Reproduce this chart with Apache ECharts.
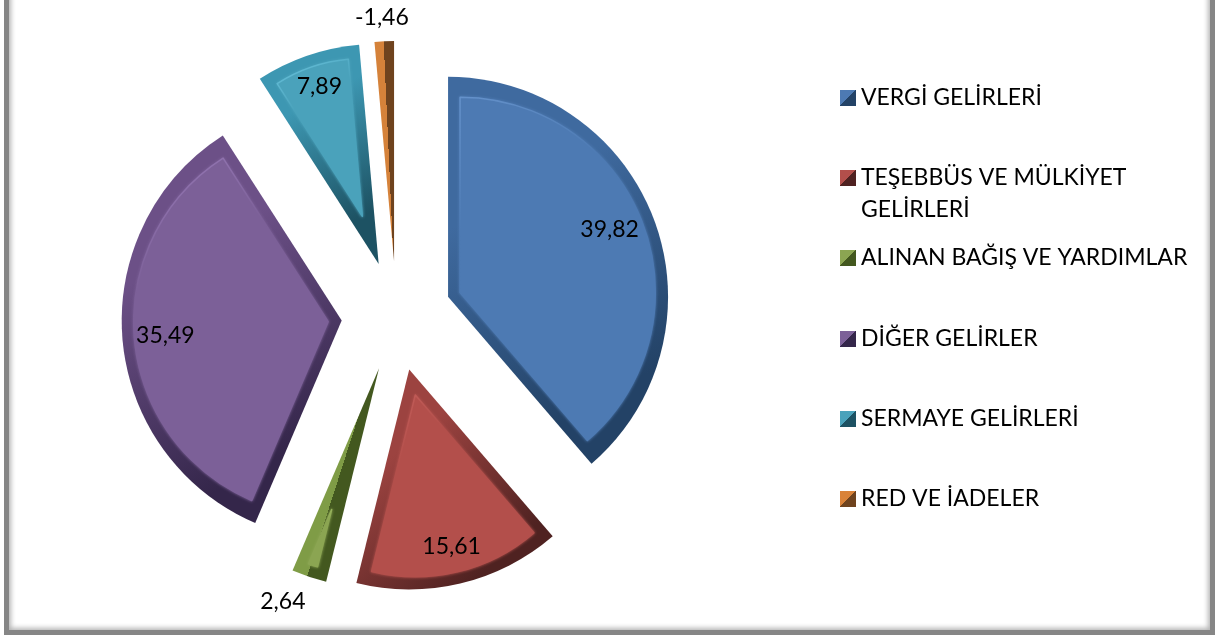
<!DOCTYPE html>
<html>
<head>
<meta charset="utf-8">
<script src="https://cdn.jsdelivr.net/npm/echarts@6/dist/echarts.min.js"></script>
<style>
html, body { margin: 0; background: #fff; overflow: hidden; }
#frame { position: absolute; left: 4px; top: -40px; width: 1201px; height: 665px; border: 5px solid #868686; box-shadow: inset 0 0 5px 2px #b4b4b4; }
#main { position: absolute; left: 0; top: 0; width: 1217px; height: 637px; }
</style>
</head>
<body>
<div id="frame"></div>
<div id="main"></div>
<script>
const categories = ['VERGİ GELİRLERİ', 'TEŞEBBÜS VE MÜLKİYET GELİRLERİ', 'ALINAN BAĞIŞ VE YARDIMLAR', 'DİĞER GELİRLER', 'SERMAYE GELİRLERİ', 'RED VE İADELER'];
const values = [39.82, 15.61, 2.64, 35.49, 7.89, -1.46];
const fillColors = ['#4d7ab3', '#b34f4b', '#8ba552', '#7c6098', '#4aa2bb', '#d98238'];
const rimColors = ['#6592cb', '#c8625e', '#a2c065', '#9a7cba', '#6cc6e0', '#e8953e'];
const lightEdges = ['#3f6a9f', '#9c4340', '#7f9c46', '#6c5087', '#3d97b2', '#d5823a'];
const darkEdges = ['#234266', '#4f2221', '#43581f', '#34264a', '#1d5263', '#6f431e'];
const bevelWidths = [12, 12, 12, 12, 12, 0];
const legendCenters = [98, 178, 258, 339, 419, 499];
const legendLabels = ['VERGİ GELİRLERİ', '\nTEŞEBBÜS VE MÜLKİYET\nGELİRLERİ', 'ALINAN BAĞIŞ VE YARDIMLAR', 'DİĞER GELİRLER', 'SERMAYE GELİRLERİ', 'RED VE İADELER'];
// direction of the edge shading in each slice, the thin ones are split along their ridge
const shadeDirs = [[0, 0, 1, 1], [0, 0, 1, 1], [0, 0.435, 1, 0.565], [0, 0, 1, 1], [0, 0, 1, 1], [0, 0.502, 1, 0.498]];
const ridgeStops = [null, null, 0.54, null, null, 0.72];
const labelShift = [{ dx: -10, dy: -4 }, { dx: 0, dy: -1 }, { dx: -38, dy: 60 }, { dx: 6, dy: 0 }, { dx: 0, dy: -4 }, { dx: -4, dy: -61 }];

const font = 'Lato';
const pieCenter = [396.5, 316];
const pieRadius = 220;
const explode = 55;
const total = values.reduce(function (a, b) { return a + Math.abs(b); }, 0);

function edgeGradient(i) {
    const d = shadeDirs[i];
    const r = ridgeStops[i];
    const stops = r
        ? [{ offset: 0, color: lightEdges[i] }, { offset: r, color: lightEdges[i] }, { offset: r, color: darkEdges[i] }, { offset: 1, color: darkEdges[i] }]
        : [{ offset: 0, color: lightEdges[i] }, { offset: 0.3, color: lightEdges[i] }, { offset: 0.8, color: darkEdges[i] }, { offset: 1, color: darkEdges[i] }];
    return new echarts.graphic.LinearGradient(d[0], d[1], d[2], d[3], stops);
}

function rimGradient(i) {
    return new echarts.graphic.LinearGradient(0, 0, 1, 1, [
        { offset: 0, color: rimColors[i] },
        { offset: 0.3, color: fillColors[i] },
        { offset: 1, color: fillColors[i] }
    ]);
}

const sliceData = categories.map(function (name, i) {
    return { name: name, value: Math.abs(values[i]), selected: true };
});

const baseSeries = {
    type: 'pie',
    center: pieCenter,
    radius: [0, pieRadius],
    startAngle: 90,
    selectedMode: 'multiple',
    selectedOffset: explode,
    silent: true,
    label: { show: false },
    labelLine: { show: false },
    data: sliceData.map(function (d, i) {
        return Object.assign({}, d, { itemStyle: { color: edgeGradient(i), borderWidth: 0 } });
    })
};

// the flat top of a bevelled slice is the same wedge pushed further out and made smaller
const topSeries = [];
categories.forEach(function (name, i) {
    if (!bevelWidths[i]) return;
    const half = Math.PI * Math.abs(values[i]) / total;
    const shift = bevelWidths[i] / Math.sin(half);
    topSeries.push({
        type: 'pie',
        center: pieCenter,
        radius: [0, pieRadius - bevelWidths[i] - shift],
        startAngle: 90,
        selectedMode: 'multiple',
        selectedOffset: explode + shift,
        silent: true,
        label: { show: false },
        labelLine: { show: false },
        data: sliceData.map(function (d, j) {
            const style = j === i
                ? { color: fillColors[i], borderColor: rimGradient(i), borderWidth: 1.5, shadowBlur: 3, shadowColor: fillColors[i] }
                : { color: 'transparent', borderWidth: 0 };
            return Object.assign({}, d, { itemStyle: style });
        })
    });
});

const labelSeries = {
    // invisible ring, only carries the value labels
    type: 'pie',
    center: pieCenter,
    radius: [140, pieRadius],
    startAngle: 90,
    selectedMode: 'multiple',
    selectedOffset: explode,
    silent: true,
    itemStyle: { color: 'transparent', borderWidth: 0 },
    label: {
        show: true,
        position: 'inside',
        fontFamily: font,
        fontSize: 23,
        color: '#000',
        formatter: function (p) { return String(values[p.dataIndex]).replace('.', ','); }
    },
    labelLayout: function (p) { return labelShift[p.dataIndex]; },
    labelLine: { show: false },
    data: sliceData
};

const chart = echarts.init(document.getElementById('main'));
chart.setOption({
    animation: false,
    backgroundColor: 'transparent',
    legend: categories.map(function (name, i) {
        return {
            left: 840,
            top: legendCenters[i] - legendLabels[i].split('\n').length * 16,
            padding: 0,
            itemWidth: 16,
            itemHeight: 16,
            itemGap: 0,
            selectedMode: false,
            icon: 'rect',
            data: [{
                name: name,
                itemStyle: {
                    color: new echarts.graphic.LinearGradient(0, 0, 1, 1, [
                        { offset: 0, color: fillColors[i] },
                        { offset: 0.5, color: fillColors[i] },
                        { offset: 0.5, color: darkEdges[i] },
                        { offset: 1, color: darkEdges[i] }
                    ]),
                    borderWidth: 0
                }
            }],
            formatter: function () { return legendLabels[i]; },
            textStyle: { fontFamily: font, fontSize: 23, color: '#000', lineHeight: 32 }
        };
    }),
    series: [baseSeries].concat(topSeries, [labelSeries])
});
</script>
</body>
</html>
